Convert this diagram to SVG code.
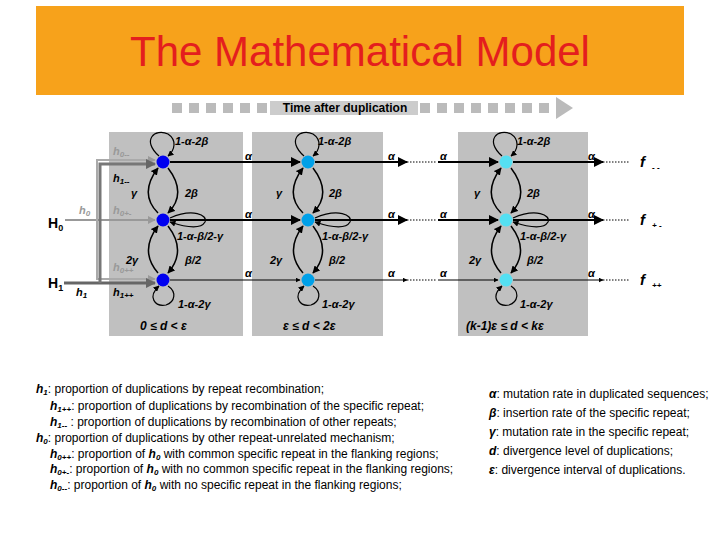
<svg xmlns="http://www.w3.org/2000/svg" width="720" height="540" viewBox="0 0 720 540">
<defs>
<marker id="ar" viewBox="0 0 10 10" refX="9" refY="5" markerWidth="5" markerHeight="5" orient="auto"><path d="M0,0 L10,5 L0,10 z" fill="#000"/></marker>
<marker id="ag" viewBox="0 0 10 10" refX="9" refY="5" markerWidth="4" markerHeight="4" orient="auto"><path d="M0,0 L10,5 L0,10 z" fill="#999"/></marker>
<marker id="ad" viewBox="0 0 10 10" refX="9" refY="5" markerWidth="3.5" markerHeight="3.5" orient="auto"><path d="M0,0 L10,5 L0,10 z" fill="#666"/></marker>
</defs>
<style>
.t{font-family:"Liberation Sans",Arial,sans-serif;font-size:11px;font-style:italic;font-weight:bold}
.b{font-family:"Liberation Sans",Arial,sans-serif;font-size:12px}
.l{fill:none;stroke:#000}
.i{font-weight:bold;font-style:italic}
</style>
<rect width="720" height="540" fill="#fff"/>
<rect x="36" y="6" width="648" height="89" fill="#F7A21B"/>
<text x="360" y="66" font-family="Liberation Sans,Arial,sans-serif" font-size="42" fill="#E41E1E" text-anchor="middle">The Mathematical Model</text>
<g id="timeline" fill="#bbb">
<rect x="172" y="103" width="10" height="10"/><rect x="189" y="103" width="10" height="10"/><rect x="206" y="103" width="10" height="10"/><rect x="223" y="103" width="10" height="10"/><rect x="240" y="103" width="10" height="10"/><rect x="257" y="103" width="10" height="10"/>
<rect x="420" y="103" width="10" height="10"/><rect x="437" y="103" width="10" height="10"/><rect x="454" y="103" width="10" height="10"/><rect x="471" y="103" width="10" height="10"/><rect x="488" y="103" width="10" height="10"/><rect x="505" y="103" width="10" height="10"/><rect x="522" y="103" width="10" height="10"/><rect x="539" y="103" width="10" height="10"/>
<path d="M556,97 L573,108 L556,119 z"/>
<rect x="270" y="101" width="148" height="14" fill="#ccc"/>
<text x="345" y="112" font-family="Liberation Sans,Arial,sans-serif" font-size="12" font-weight="bold" fill="#000" text-anchor="middle">Time after duplication</text>
</g>
<rect x="109" y="132" width="134" height="204" fill="#c0c0c0"/>
<rect x="252" y="132" width="131" height="204" fill="#c0c0c0"/>
<rect x="458" y="132" width="130" height="204" fill="#c0c0c0"/>
<g id="connectors">
<path d="M65,220 H155" style="fill:none;stroke:#999;stroke-width:2" marker-end="url(#ag)"/>
<path d="M97,220 V160 H155" style="fill:none;stroke:#aaa;stroke-width:2" marker-end="url(#ag)"/>
<path d="M97,220 V279 H155" style="fill:none;stroke:#aaa;stroke-width:2" marker-end="url(#ag)"/>
<path d="M64,283 H155" style="fill:none;stroke:#666;stroke-width:3" marker-end="url(#ad)"/>
<path d="M100,283 V164 H155" style="fill:none;stroke:#777;stroke-width:3" marker-end="url(#ad)"/>
<path d="M170,162 H300" stroke="#000" stroke-width="2" marker-end="url(#ar)"/>
<path d="M170,220 H300" stroke="#000" stroke-width="2" marker-end="url(#ar)"/>
<path d="M170,280 H300" stroke="#000" stroke-width="1" marker-end="url(#ar)"/>
<g stroke="#000">
<path d="M315,162 H407" stroke-width="2" marker-end="url(#ar)"/><path d="M407,162 H437" stroke-dasharray="1.5,1.5"/><path d="M438,162 H498" stroke-width="2" marker-end="url(#ar)"/>
<path d="M315,220 H407" stroke-width="2" marker-end="url(#ar)"/><path d="M407,220 H437" stroke-dasharray="1.5,1.5"/><path d="M438,220 H498" stroke-width="2" marker-end="url(#ar)"/>
<path d="M315,280 H407" marker-end="url(#ar)"/><path d="M407,280 H437" stroke-dasharray="1.5,1.5"/><path d="M438,280 H498" marker-end="url(#ar)"/>
<path d="M513,162 H603" stroke-width="2" marker-end="url(#ar)"/><path d="M603,162 H630" stroke-dasharray="1.5,1.5"/>
<path d="M513,220 H603" stroke-width="2" marker-end="url(#ar)"/><path d="M603,220 H630" stroke-dasharray="1.5,1.5"/>
<path d="M513,280 H603" marker-end="url(#ar)"/><path d="M603,280 H630" stroke-dasharray="1.5,1.5"/>
</g>
</g>
<g id="stage1" transform="translate(163,0)">
<g class="l" stroke-width="1.2">
<path d="M-4,156 C-22,140 -8,128 5,134 C14,140 12,150 5,156" marker-end="url(#ar)"/>
<path d="M5,168 C18,185 18,200 5,213" marker-end="url(#ar)" stroke-width="1.5"/>
<path d="M-5,213 C-18,200 -18,185 -5,168" marker-end="url(#ar)" stroke-width="1.5"/>
<path d="M7,218 C30,208 45,215 42,222 C38,229 25,228 7,222" marker-end="url(#ar)"/>
<path d="M5,226 C18,243 18,258 5,273" marker-end="url(#ar)" stroke-width="1.5"/>
<path d="M-5,273 C-18,258 -18,243 -5,226" marker-end="url(#ar)" stroke-width="1.5"/>
<path d="M5,286 C14,292 12,302 3,305 C-8,307 -16,297 -4,286" marker-end="url(#ar)"/>
</g>
<circle cx="0" cy="162" r="6.5" fill="#0000F0"/><circle cx="0" cy="220" r="6.5" fill="#0000F0"/><circle cx="0" cy="280" r="6.5" fill="#0000F0"/>
</g>
<g id="stage2" transform="translate(308,0)">
<g class="l" stroke-width="1.2">
<path d="M-4,156 C-22,140 -8,128 5,134 C14,140 12,150 5,156" marker-end="url(#ar)"/>
<path d="M5,168 C18,185 18,200 5,213" marker-end="url(#ar)" stroke-width="1.5"/>
<path d="M-5,213 C-18,200 -18,185 -5,168" marker-end="url(#ar)" stroke-width="1.5"/>
<path d="M7,218 C30,208 45,215 42,222 C38,229 25,228 7,222" marker-end="url(#ar)"/>
<path d="M5,226 C18,243 18,258 5,273" marker-end="url(#ar)" stroke-width="1.5"/>
<path d="M-5,273 C-18,258 -18,243 -5,226" marker-end="url(#ar)" stroke-width="1.5"/>
<path d="M5,286 C14,292 12,302 3,305 C-8,307 -16,297 -4,286" marker-end="url(#ar)"/>
</g>
<circle cx="0" cy="162" r="6.5" fill="#00A0E8"/><circle cx="0" cy="220" r="6.5" fill="#00A0E8"/><circle cx="0" cy="280" r="6.5" fill="#00A0E8"/>
</g>
<g id="stage3" transform="translate(506,0)">
<g class="l" stroke-width="1.2">
<path d="M-4,156 C-22,140 -8,128 5,134 C14,140 12,150 5,156" marker-end="url(#ar)"/>
<path d="M5,168 C18,185 18,200 5,213" marker-end="url(#ar)" stroke-width="1.5"/>
<path d="M-5,213 C-18,200 -18,185 -5,168" marker-end="url(#ar)" stroke-width="1.5"/>
<path d="M7,218 C30,208 45,215 42,222 C38,229 25,228 7,222" marker-end="url(#ar)"/>
<path d="M5,226 C18,243 18,258 5,273" marker-end="url(#ar)" stroke-width="1.5"/>
<path d="M-5,273 C-18,258 -18,243 -5,226" marker-end="url(#ar)" stroke-width="1.5"/>
<path d="M5,286 C14,292 12,302 3,305 C-8,307 -16,297 -4,286" marker-end="url(#ar)"/>
</g>
<circle cx="0" cy="162" r="6.5" fill="#55E0F2"/><circle cx="0" cy="220" r="6.5" fill="#55E0F2"/><circle cx="0" cy="280" r="6.5" fill="#55E0F2"/>
</g>
<g id="labels" class="t">
<text x="175" y="145">1-α-2β</text><text x="318" y="145">1-α-2β</text><text x="517" y="145">1-α-2β</text>
<text x="185" y="197">2β</text><text x="329" y="197">2β</text><text x="527" y="197">2β</text>
<text x="131" y="197">γ</text><text x="276" y="197">γ</text><text x="474" y="197">γ</text>
<text x="177" y="240">1-α-β/2-γ</text><text x="322" y="240">1-α-β/2-γ</text><text x="520" y="240">1-α-β/2-γ</text>
<text x="185" y="264">β/2</text><text x="329" y="264">β/2</text><text x="527" y="264">β/2</text>
<text x="126" y="264">2γ</text><text x="270" y="264">2γ</text><text x="469" y="264">2γ</text>
<text x="178" y="308">1-α-2γ</text><text x="322" y="308">1-α-2γ</text><text x="520" y="308">1-α-2γ</text>
<text x="140" y="330" font-size="12">0 ≤ d &lt; ε</text><text x="283" y="330" font-size="12">ε ≤ d &lt; 2ε</text><text x="466" y="330" font-size="12">(k-1)ε ≤ d &lt; kε</text>
<text x="245" y="160">α</text><text x="245" y="218">α</text><text x="245" y="277">α</text>
<text x="388" y="160">α</text><text x="388" y="218">α</text><text x="388" y="277">α</text>
<text x="440" y="160">α</text><text x="440" y="218">α</text><text x="440" y="277">α</text>
<text x="588" y="160">α</text><text x="588" y="218">α</text><text x="588" y="277">α</text>
<text x="640" y="167" font-size="15">f</text><text x="652" y="170" font-size="8">- -</text>
<text x="640" y="225" font-size="15">f</text><text x="652" y="228" font-size="8">+ -</text>
<text x="640" y="285" font-size="15">f</text><text x="652" y="288" font-size="8">++</text>
<text x="113" y="155" fill="#999">h<tspan font-size="8" dy="2">0--</tspan></text>
<text x="113" y="182">h<tspan font-size="8" dy="2">1--</tspan></text>
<text x="113" y="214" fill="#999">h<tspan font-size="8" dy="2">0+-</tspan></text>
<text x="113" y="271" fill="#999">h<tspan font-size="8" dy="2">0++</tspan></text>
<text x="113" y="296">h<tspan font-size="8" dy="2">1++</tspan></text>
<text x="79" y="214" fill="#999">h<tspan font-size="8" dy="2">0</tspan></text>
<text x="76" y="296">h<tspan font-size="8" dy="2">1</tspan></text>
</g>
<text x="48" y="228" font-family="Liberation Sans,Arial,sans-serif" font-size="14" font-weight="bold">H<tspan font-size="9" dy="3">0</tspan></text>
<text x="48" y="288" font-family="Liberation Sans,Arial,sans-serif" font-size="14" font-weight="bold">H<tspan font-size="9" dy="3">1</tspan></text>
<g id="legend" class="b">
<text x="36" y="393"><tspan class="i">h<tspan font-size="8" dy="2">1</tspan></tspan><tspan dy="-2">: proportion of duplications by repeat recombination;</tspan></text>
<text x="50" y="410"><tspan class="i">h<tspan font-size="8" dy="2">1++</tspan></tspan><tspan dy="-2">: proportion of duplications by recombination of the specific repeat;</tspan></text>
<text x="50" y="426"><tspan class="i">h<tspan font-size="8" dy="2">1--</tspan></tspan><tspan dy="-2"> : proportion of duplications by recombination of other repeats;</tspan></text>
<text x="36" y="442"><tspan class="i">h<tspan font-size="8" dy="2">0</tspan></tspan><tspan dy="-2">: proportion of duplications by other repeat-unrelated mechanism;</tspan></text>
<text x="50" y="458"><tspan class="i">h<tspan font-size="8" dy="2">0++</tspan></tspan><tspan dy="-2">: proportion of </tspan><tspan class="i">h<tspan font-size="8" dy="2">0</tspan></tspan><tspan dy="-2"> with common specific repeat in the flanking regions;</tspan></text>
<text x="50" y="473"><tspan class="i">h<tspan font-size="8" dy="2">0+-</tspan></tspan><tspan dy="-2">: proportion of </tspan><tspan class="i">h<tspan font-size="8" dy="2">0</tspan></tspan><tspan dy="-2"> with no common specific repeat in the flanking regions;</tspan></text>
<text x="50" y="489"><tspan class="i">h<tspan font-size="8" dy="2">0--</tspan></tspan><tspan dy="-2">: proportion of </tspan><tspan class="i">h<tspan font-size="8" dy="2">0</tspan></tspan><tspan dy="-2"> with no specific repeat in the flanking regions;</tspan></text>
<text x="489" y="398"><tspan class="i">α</tspan>: mutation rate in duplicated sequences;</text>
<text x="489" y="417"><tspan class="i">β</tspan>: insertion rate of the specific repeat;</text>
<text x="489" y="436"><tspan class="i">γ</tspan>: mutation rate in the specific repeat;</text>
<text x="489" y="455"><tspan class="i">d</tspan>: divergence level of duplications;</text>
<text x="489" y="474"><tspan class="i">ε</tspan>: divergence interval of duplications.</text>
</g>
</svg>
